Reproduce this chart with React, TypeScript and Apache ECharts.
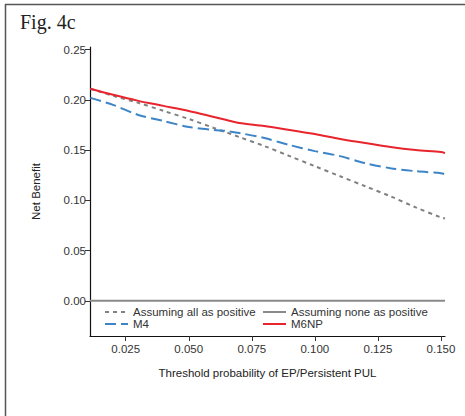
import React, { useEffect, useRef } from "react";
import * as echarts from "echarts";

// Decision-curve readings: threshold probability vs. net benefit
const thresholds = [0.011, 0.02, 0.03, 0.04, 0.05, 0.06, 0.065, 0.07, 0.08, 0.09, 0.1, 0.11, 0.12, 0.13, 0.14, 0.15, 0.1516];
const treatAll = [0.211, 0.204, 0.197, 0.189, 0.181, 0.172, 0.1675, 0.163, 0.154, 0.144, 0.134, 0.124, 0.114, 0.104, 0.093, 0.083, 0.082];
const m4 = [0.202, 0.195, 0.185, 0.179, 0.173, 0.170, 0.169, 0.167, 0.162, 0.155, 0.149, 0.144, 0.137, 0.132, 0.129, 0.127, 0.126];
const m6np = [0.211, 0.205, 0.199, 0.194, 0.189, 0.183, 0.180, 0.177, 0.174, 0.170, 0.166, 0.161, 0.157, 0.153, 0.150, 0.148, 0.147];
const treatNone = [0, 0];
const treatNoneX = [0.01084, 0.1516];

const yTicks = [0, 0.05, 0.1, 0.15, 0.2, 0.25];
const xTicks = [0.025, 0.05, 0.075, 0.1, 0.125, 0.15];

const SANS = "'Liberation Sans', Arial, sans-serif";

export default function App() {
  const ref = useRef<HTMLDivElement>(null);

  useEffect(() => {
    document.body.style.margin = "0";
    if (!ref.current) return;
    const chart = echarts.init(ref.current, null, { renderer: "svg" });
    const pair = (xs: number[], ys: number[]) => xs.map((x, i) => [x, ys[i]]);

    // two stacked legend columns, line keys only (no marker symbol)
    const legendBase = {
      orient: "vertical" as const,
      top: 306,
      padding: 0,
      itemGap: 0,
      itemWidth: 23,
      itemHeight: 14,
      itemStyle: { opacity: 0 },
      textStyle: { fontFamily: SANS, fontSize: 11.5, color: "#333", padding: [0, 0, 0, 0] },
    };

    chart.setOption({
      animation: false,
      backgroundColor: "#fff",
      textStyle: { fontFamily: SANS },
      grid: { left: 90, right: 20, top: 47, bottom: 80, containLabel: false },
      xAxis: {
        type: "value",
        min: 0.01084,
        max: 0.1516,
        name: "Threshold probability of EP/Persistent PUL",
        nameLocation: "middle",
        nameGap: 31,
        nameTextStyle: { fontFamily: SANS, fontSize: 11.5, color: "#222" },
        axisLine: { show: true, onZero: false, lineStyle: { color: "#111", width: 1.2 } },
        axisTick: { show: true, length: 5, customValues: xTicks, lineStyle: { color: "#333" } },
        axisLabel: {
          customValues: xTicks,
          margin: 7,
          fontFamily: SANS,
          fontSize: 11.5,
          color: "#333",
          formatter: (v: number) => v.toFixed(3),
        },
        splitLine: { show: false },
      },
      yAxis: {
        type: "value",
        min: -0.035,
        max: 0.2526,
        name: "Net Benefit",
        nameLocation: "middle",
        nameGap: 48,
        nameTextStyle: { fontFamily: SANS, fontSize: 11.5, color: "#222" },
        axisLine: { show: true, onZero: false, lineStyle: { color: "#111", width: 1.2 } },
        axisTick: { show: true, length: 5, customValues: yTicks, lineStyle: { color: "#333" } },
        axisLabel: {
          customValues: yTicks,
          margin: 4,
          fontFamily: SANS,
          fontSize: 11.5,
          color: "#333",
          formatter: (v: number) => v.toFixed(2),
        },
        splitLine: { show: false },
      },
      legend: [
        { ...legendBase, left: 104, data: ["Assuming all as positive", "M4"] },
        { ...legendBase, left: 262, data: ["Assuming none as positive", "M6NP"] },
      ],
      graphic: [
        { type: "line", shape: { x1: 5, y1: 4.5, x2: 465, y2: 4.5 }, style: { stroke: "#555", lineWidth: 1.5 } },
        { type: "line", shape: { x1: 5.5, y1: 4, x2: 5.5, y2: 416 }, style: { stroke: "#555", lineWidth: 1.5 } },
        {
          type: "text",
          left: 20,
          top: 12,
          style: { text: "Fig. 4c", font: "20px 'Liberation Serif', 'Times New Roman', serif", fill: "#222" },
        },
      ],
      series: [
        {
          name: "Assuming all as positive",
          type: "line",
          data: pair(thresholds, treatAll),
          symbol: "none",
          smooth: 0.3,
          lineStyle: { color: "#808080", width: 2, type: [4, 4] },
          itemStyle: { color: "#808080" },
          z: 3,
        },
        {
          name: "Assuming none as positive",
          type: "line",
          data: pair(treatNoneX, treatNone),
          symbol: "none",
          lineStyle: { color: "#8a8a8a", width: 2 },
          itemStyle: { color: "#8a8a8a" },
          z: 2,
        },
        {
          name: "M4",
          type: "line",
          data: pair(thresholds, m4),
          symbol: "none",
          smooth: 0.3,
          lineStyle: { color: "#3d85c6", width: 2, type: [11, 5] },
          itemStyle: { color: "#3d85c6" },
          z: 4,
        },
        {
          name: "M6NP",
          type: "line",
          data: pair(thresholds, m6np),
          symbol: "none",
          smooth: 0.3,
          lineStyle: { color: "#e8242c", width: 2 },
          itemStyle: { color: "#e8242c" },
          z: 5,
        },
      ],
    });

    return () => chart.dispose();
  }, []);

  return <div ref={ref} style={{ width: 465, height: 416 }} />;
}
